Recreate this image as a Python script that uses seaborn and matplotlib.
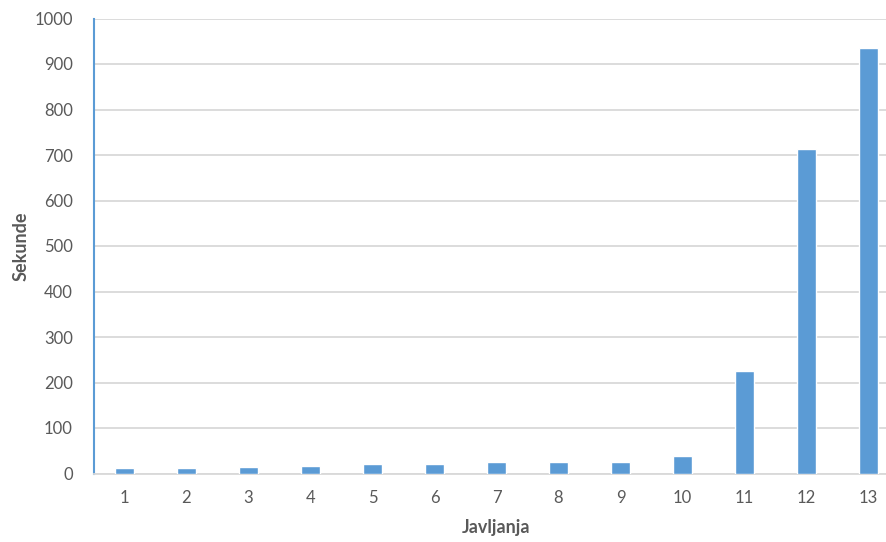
import matplotlib
matplotlib.use('Agg')
from matplotlib import pyplot as plt
import pandas as pd
import seaborn as sns

sns.set_theme(style='white')
plt.rcParams['font.family'] = ['Lato', 'DejaVu Sans']

# values
javljanja = ['1', '2', '3', '4', '5', '6', '7', '8', '9', '10', '11', '12', '13']
sekunde = [13, 12, 15, 17, 20, 21, 26, 26, 26, 39, 226, 713, 935]

df = pd.DataFrame({'Javljanja': javljanja, 'Sekunde': sekunde})

fig = plt.figure(figsize=(8.86, 5.42), dpi=100)
# plot area runs slightly past the right edge, as in the reference
ax = fig.add_axes([93.5 / 886, 68.5 / 542, 806 / 886, 455 / 542])

sns.barplot(data=df, x='Javljanja', y='Sekunde', color='#5B9BD5', width=0.32,
            saturation=1, ax=ax, zorder=3)

ax.set_ylim(0, 1000)
ax.set_yticks(range(0, 1001, 100))
ax.set_xlim(-0.5, 12.5)
ax.grid(axis='y', color='#D9D9D9', linewidth=1.3, zorder=0)
ax.set_axisbelow(True)

for side in ['top', 'right']:
  ax.spines[side].set_visible(False)
ax.spines['left'].set_color('#5B9BD5')
ax.spines['left'].set_linewidth(1.5)
ax.spines['bottom'].set_color('#D9D9D9')
ax.spines['bottom'].set_linewidth(1.3)

ax.tick_params(axis='both', length=0, labelsize=12, labelcolor='#595959')
ax.tick_params(axis='y', pad=15)
ax.tick_params(axis='x', pad=12)
ax.set_xlabel('Javljanja', fontsize=13, fontweight='bold', color='#595959', labelpad=9)
ax.set_ylabel('Sekunde', fontsize=13, fontweight='bold', color='#595959', labelpad=3)

plt.savefig('out.png', dpi=100)
plt.close()
